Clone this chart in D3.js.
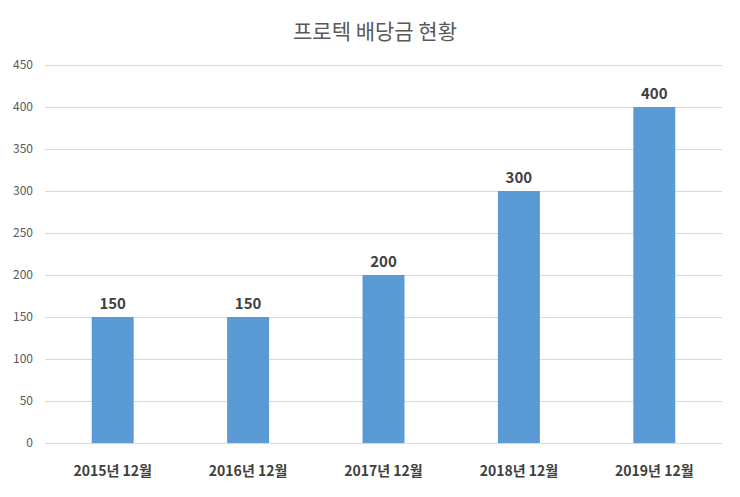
<!DOCTYPE html>
<html><head><meta charset="utf-8">
<script src="https://cdn.jsdelivr.net/npm/d3@7"></script>
<style>body{margin:0;background:#fff}</style>
</head><body>
<svg id="c" width="740" height="497"></svg>
<script>
const categories = ["2015년 12월","2016년 12월","2017년 12월","2018년 12월","2019년 12월"];
const values = [150,150,200,300,400];
const yTicks = [0,50,100,150,200,250,300,350,400,450];
const title = "프로텍 배당금 현황";

const svg = d3.select("#c");
const font = "'Noto Sans CJK KR','Malgun Gothic',sans-serif";
const pL = 45, pR = 722, pT = 65, pB = 443;
const x = d3.scaleBand().domain(categories).range([pL,pR]).paddingInner(0.69).paddingOuter(0.345);
const y = d3.scaleLinear().domain([0,450]).range([pB,pT]);

svg.append("text").attr("x",375).attr("y",39).attr("text-anchor","middle")
  .attr("font-family",font).attr("font-size",21).attr("fill","#595959").text(title);

svg.append("g").selectAll("line").data(yTicks).join("line")
  .attr("x1",pL).attr("x2",pR).attr("y1",d=>y(d)+0.5).attr("y2",d=>y(d)+0.5)
  .attr("stroke","#d9d9d9").attr("stroke-width",1);

svg.append("g").selectAll("text").data(yTicks).join("text")
  .attr("x",33).attr("y",d=>y(d)+4).attr("text-anchor","end")
  .attr("font-family",font).attr("font-size",12).attr("fill","#595959").text(d=>d);

svg.append("g").selectAll("rect").data(values).join("rect")
  .attr("x",(d,i)=>x(categories[i])).attr("width",x.bandwidth())
  .attr("y",d=>y(d)).attr("height",d=>y(0)-y(d)).attr("fill","#5B9BD5");

svg.append("g").selectAll("text").data(values).join("text")
  .attr("x",(d,i)=>x(categories[i])+x.bandwidth()/2).attr("y",d=>y(d)-8)
  .attr("text-anchor","middle").attr("font-family",font).attr("font-weight","bold")
  .attr("font-size",15).attr("fill","#404040").text(d=>d);

svg.append("g").selectAll("text").data(categories).join("text")
  .attr("x",d=>x(d)+x.bandwidth()/2).attr("y",476)
  .attr("text-anchor","middle").attr("font-family",font).attr("font-weight","bold")
  .attr("font-size",14).attr("fill","#404040").text(d=>d);
</script>
</body></html>
